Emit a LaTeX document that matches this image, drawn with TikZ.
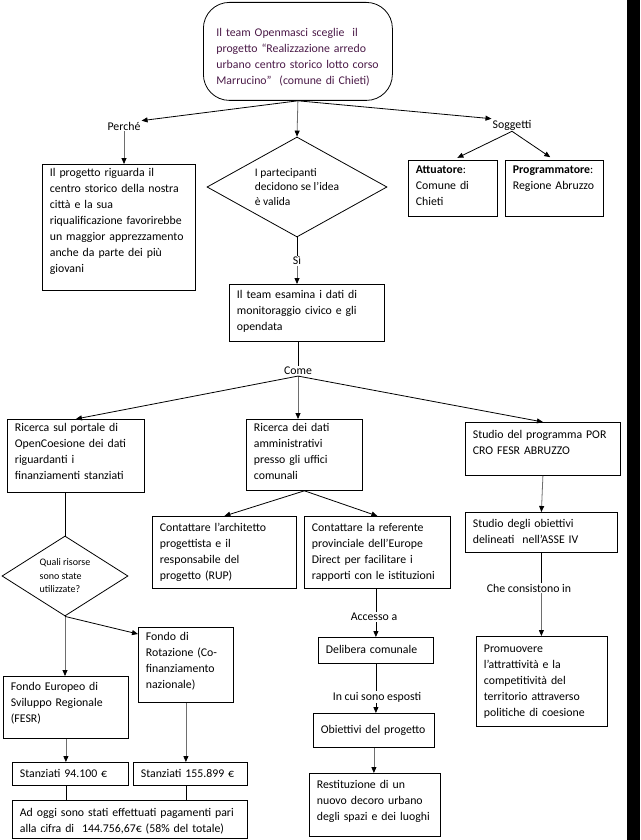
\documentclass[tikz,border=0pt]{standalone}
\usepackage{fontspec}
\setmainfont{Carlito}
\usetikzlibrary{arrows.meta,shapes.geometric}
\definecolor{plum}{HTML}{4B1A48}
\definecolor{linegray}{HTML}{6E6E6E}
\tikzset{box/.style={draw,line width=.8pt,anchor=north west,align=left,inner xsep=7.5pt,inner ysep=0pt,
 font=\fontsize{11.8}{16}\selectfont},lbl/.style={inner sep=1pt,font=\fontsize{11.8}{14}\selectfont},
 dia/.style={draw,diamond,line width=.8pt,inner sep=0pt,align=left},
 arr/.style={-{Triangle[length=6pt,width=5pt]},line width=.8pt},
 garr/.style={-{Triangle[length=6pt,width=5pt,color=black]},line width=.8pt,draw=linegray},
 ln/.style={line width=.8pt}}
\begin{document}
\begin{tikzpicture}[x=1pt,y=-1pt]
\useasboundingbox[fill=white] (0,0) rectangle (640,840);
\fill (627,0) rectangle (640,840);
\node[box,rounded corners=26pt,text=plum,inner xsep=13pt,text width=163pt,text height=34pt,text depth=64pt] (scelta) at (203,2)
 {Il team Openmasci sceglie\ \ il\\progetto “Realizzazione arredo\\urbano centro storico lotto corso\\Marrucino”\ \ (comune di Chieti)};
\node[lbl] (perche) at (124,126) {Perché};
\node[lbl] (soggetti) at (512,125) {Soggetti};
\node[box,text width=138pt,text height=12pt,text depth=114pt] (progetto) at (42,164)
 {Il progetto riguarda il\\centro storico della nostra\\città e la sua\\riqualificazione favorirebbe\\un maggior apprezzamento\\anche da parte dei più\\giovani};
\node[dia,aspect=1.8,minimum width=180pt,minimum height=100pt,font=\fontsize{11.5}{14.5}\selectfont] (valida) at (297,187)
 {I partecipanti\\decidono se l’idea\\è valida};
\node[box,text width=74pt,text height=13pt,text depth=43pt] (attuatore) at (408,160) {\textbf{Attuatore}:\\Comune di\\Chieti};
\node[box,text width=83pt,text height=13pt,text depth=43pt] (programmatore) at (505,160) {\textbf{Programmatore}:\\Regione Abruzzo};
\node[lbl] (si) at (297,261) {Sì};
\node[box,text width=140pt,text height=14pt,text depth=43pt] (team) at (229,284)
 {Il team esamina i dati di\\monitoraggio civico e gli\\opendata};
\node[lbl] (come) at (298,371) {Come};
\node[box,text width=122pt,text height=12pt,text depth=61pt] (portale) at (7,419)
 {Ricerca sul portale di\\OpenCoesione dei dati\\riguardanti i\\finanziamenti stanziati};
\node[box,text width=101pt,text height=12pt,text depth=59pt] (uffici) at (246,419)
 {Ricerca dei dati\\amministrativi\\presso gli uffici\\comunali};
\node[box,text width=140pt,text height=16pt,text depth=37pt] (studioprog) at (465,422)
 {Studio del programma POR\\CRO FESR ABRUZZO};
\node[dia,aspect=1.6,minimum width=126pt,minimum height=80pt,font=\fontsize{10}{13.5}\selectfont] (risorse) at (65,576)
 {Quali risorse\\sono state\\utilizzate?};
\node[box,text width=129pt,text height=15pt,text depth=57pt] (architetto) at (152,516)
 {Contattare l’architetto\\progettista e il\\responsabile del\\progetto (RUP)};
\node[box,text width=131pt,text height=15pt,text depth=57pt] (referente) at (304,516)
 {Contattare la referente\\provinciale dell’Europe\\Direct per facilitare i\\rapporti con le istituzioni};
\node[box,text width=137pt,text height=15pt,text depth=25pt] (studioob) at (465,512)
 {Studio degli obiettivi\\delineati\ \ nell’ASSE IV};
\node[lbl] (consist) at (529,588) {Che consistono in};
\node[box,text width=116pt,text height=16pt,text depth=74pt] (promuovere) at (476,636)
 {Promuovere\\l’attrattività e la\\competitività del\\territorio attraverso\\politiche di coesione};
\node[lbl] (accesso) at (374,617) {Accesso a};
\node[box,text width=100pt,text height=16pt,text depth=10pt] (delibera) at (318,637) {Delibera comunale};
\node[lbl] (esposti) at (377,697) {In cui sono esposti};
\node[box,text width=106pt,text height=20pt,text depth=14pt] (obiettivi) at (313,713) {Obiettivi del progetto};
\node[box,text width=116pt,text height=15pt,text depth=48pt] (restituzione) at (309,773)
 {Restituzione di un\\nuovo decoro urbano\\degli spazi e dei luoghi};
\node[box,text width=80pt,text height=13pt,text depth=62pt] (rotazione) at (138,627)
 {Fondo di\\Rotazione (Co-\\finanziamento\\nazionale)};
\node[box,text width=110pt,text height=14pt,text depth=48pt] (fesr) at (3,676)
 {Fondo Europeo di\\Sviluppo Regionale\\(FESR)};
\node[box,text width=101pt,text height=15pt,text depth=8pt] (stanz1) at (12,762) {Stanziati 94.100 €};
\node[box,text width=99pt,text height=15pt,text depth=8pt] (stanz2) at (133,762) {Stanziati 155.899 €};
\node[box,text width=220pt,text height=16pt,text depth=22pt] (pagamenti) at (12,800)
 {Ad oggi sono stati effettuati pagamenti pari\\alla cifra di\ \ 144.756,67€ (58\% del totale)};
\draw[arr] (scelta.south) -- (perche.north east);
\draw[arr] (scelta.south) -- (soggetti.north west);
\draw[garr] (scelta.south) -- (valida.north);
\draw[garr] (perche.south) -- (perche.south |- progetto.north);
\draw[arr,shorten >=5pt] (soggetti.south) -- (attuatore.north);
\draw[arr,shorten >=5pt] (soggetti.south) -- (programmatore.north);
\draw[ln] (valida.south) -- (si.north);
\draw[garr] (si.south) -- (si.south |- team.north);
\draw[ln] (come.north |- team.south) -- (come.north);
\draw[arr] (come.south) -- (portale.north);
\draw[garr] (come.south) -- (come.south |- uffici.north);
\draw[arr] (come.south) -- (studioprog.north);
\draw[ln] (portale.south -| risorse.north) -- (risorse.north);
\draw[arr] (uffici.south) -- (architetto.north);
\draw[arr] (uffici.south) -- (referente.north);
\draw[garr] (studioprog.south) -- (studioob.north);
\draw[ln] (studioob.south) -- (studioob.south |- consist.north);
\draw[garr] (studioob.south |- consist.south) -- (studioob.south |- promuovere.north);
\draw[ln] (referente.south -| delibera.north) -- (accesso.north -| delibera.north);
\draw[arr] (accesso.south -| delibera.north) -- (delibera.north);
\draw[ln] (delibera.south) -- (esposti.north -| delibera.south);
\draw[arr] (esposti.south -| delibera.south) -- (delibera.south |- obiettivi.north);
\draw[garr] (obiettivi.south) -- (obiettivi.south |- restituzione.north);
\draw[garr] (risorse.south) -- (risorse.south |- fesr.north);
\draw[arr] (risorse.south) -- ([yshift=-7pt]rotazione.north west);
\draw[garr] (fesr.south) -- (fesr.south |- stanz1.north);
\draw[garr] (rotazione.south) -- (rotazione.south |- stanz2.north);
\draw[ln] (stanz1.south -| fesr.south) -- (pagamenti.north -| fesr.south);
\draw[ln] (stanz2.south -| rotazione.south) -- (pagamenti.north -| rotazione.south);
\end{tikzpicture}
\end{document}
